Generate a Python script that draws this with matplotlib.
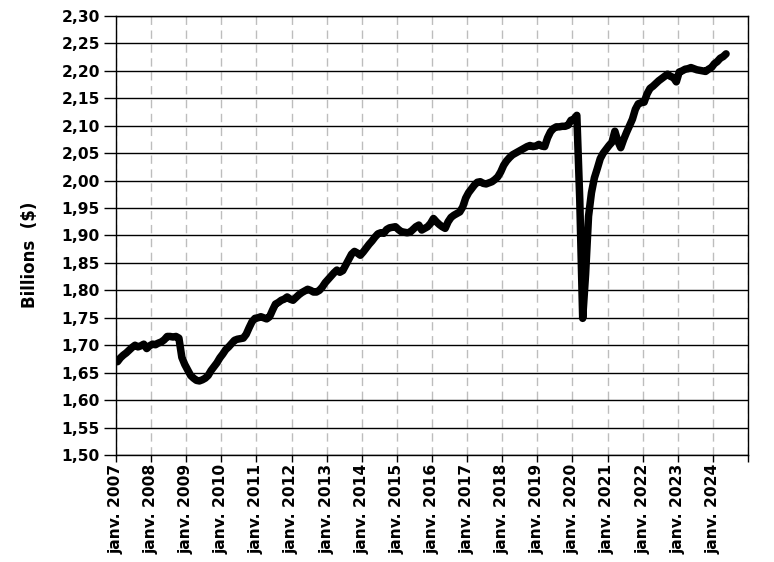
import numpy as np
import matplotlib
matplotlib.use("Agg")
from matplotlib import pyplot as plt
from matplotlib.ticker import FuncFormatter

# monthly values, janv. 2007 -> mai 2024 (one row per year)
values = [
    1.670, 1.677, 1.682, 1.686, 1.691, 1.696, 1.700, 1.697, 1.699, 1.702, 1.694, 1.699,  # 2007
    1.702, 1.701, 1.704, 1.706, 1.710, 1.716, 1.716, 1.715, 1.716, 1.713, 1.678, 1.665,  # 2008
    1.655, 1.645, 1.640, 1.636, 1.635, 1.637, 1.640, 1.645, 1.654, 1.661, 1.668, 1.677,  # 2009
    1.684, 1.692, 1.697, 1.703, 1.709, 1.711, 1.712, 1.713, 1.720, 1.732, 1.743, 1.749,  # 2010
    1.750, 1.752, 1.750, 1.748, 1.752, 1.764, 1.775, 1.778, 1.782, 1.784, 1.788, 1.784,  # 2011
    1.782, 1.787, 1.792, 1.796, 1.799, 1.802, 1.800, 1.797, 1.797, 1.800, 1.806, 1.814,  # 2012
    1.820, 1.826, 1.832, 1.837, 1.833, 1.836, 1.846, 1.856, 1.866, 1.871, 1.868, 1.864,  # 2013
    1.870, 1.877, 1.884, 1.890, 1.897, 1.903, 1.905, 1.904, 1.911, 1.914, 1.915, 1.916,  # 2014
    1.911, 1.907, 1.906, 1.905, 1.906, 1.911, 1.916, 1.919, 1.910, 1.913, 1.916, 1.922,  # 2015
    1.931, 1.925, 1.920, 1.916, 1.913, 1.925, 1.933, 1.937, 1.940, 1.943, 1.952, 1.968,  # 2016
    1.978, 1.985, 1.992, 1.997, 1.998, 1.995, 1.994, 1.996, 1.998, 2.002, 2.007, 2.016,  # 2017
    2.028, 2.036, 2.042, 2.047, 2.050, 2.053, 2.056, 2.059, 2.062, 2.064, 2.062, 2.063,  # 2018
    2.066, 2.063, 2.062, 2.078, 2.089, 2.095, 2.098, 2.098, 2.099, 2.099, 2.101, 2.110,  # 2019
    2.112, 2.119, 1.965, 1.749, 1.830, 1.935, 1.978, 2.005, 2.022, 2.040, 2.050, 2.057,  # 2020
    2.064, 2.070, 2.090, 2.072, 2.060, 2.075, 2.088, 2.100, 2.112, 2.130, 2.140, 2.142,  # 2021
    2.143, 2.158, 2.168, 2.172, 2.177, 2.182, 2.186, 2.190, 2.194, 2.190, 2.188, 2.180,  # 2022
    2.198, 2.200, 2.203, 2.204, 2.206, 2.204, 2.202, 2.201, 2.200, 2.199, 2.203, 2.206,  # 2023
    2.213, 2.217, 2.223, 2.226, 2.231,                                                   # 2024
]
first_year = 2007
last_year = 2025
y_ticks = np.arange(1.50, 2.3001, 0.05)

# the source font is a wide bold sans, DejaVu Sans Bold matches its widths best
plt.rcParams['font.family'] = ['DejaVu Sans']
plt.rcParams['font.weight'] = 'bold'

fig = plt.figure(figsize=(7.74, 5.62), dpi=100)
ax = fig.add_axes([116 / 774, 1 - 455 / 562, 632 / 774, 439 / 562])

# months are centred in their slot, like the source spreadsheet
x = np.arange(len(values)) + 0.5
ax.plot(x, values, color='black', linewidth=5.4, solid_joinstyle='round', solid_capstyle='round', zorder=3)

n_years = last_year - first_year
ax.set_xlim(0, n_years * 12)
ax.set_ylim(1.50, 2.30)

ax.set_xticks(np.arange(0, n_years * 12 + 1, 12))
ax.set_xticklabels(['janv. %d' % y if y < last_year else '' for y in range(first_year, last_year + 1)],
                   rotation=90, fontsize=11.2, fontweight='bold')
ax.set_yticks(y_ticks)
ax.yaxis.set_major_formatter(FuncFormatter(lambda v, p: ('%.2f' % v).replace('.', ',')))
for lab in ax.get_yticklabels():
    lab.set_fontsize(11.2)
    lab.set_fontweight('bold')

ax.tick_params(axis='x', direction='out', length=5, width=1, color='black', pad=1.5)
ax.tick_params(axis='y', direction='out', length=9, width=1, color='black', pad=2.5)
ax.grid(axis='y', color='black', linewidth=1, linestyle='-')
ax.grid(axis='x', color='#bdbdbd', linewidth=1, linestyle=(0, (6, 4)))
ax.set_axisbelow(True)
for s in ax.spines.values():
    s.set_color('black')
    s.set_linewidth(1)

fig.text(30 / 774, 1 - 255 / 562, 'Billions  ($)', rotation=90, ha='center', va='center',
         fontsize=12, fontweight='bold')

fig.savefig('out.png', dpi=100)
